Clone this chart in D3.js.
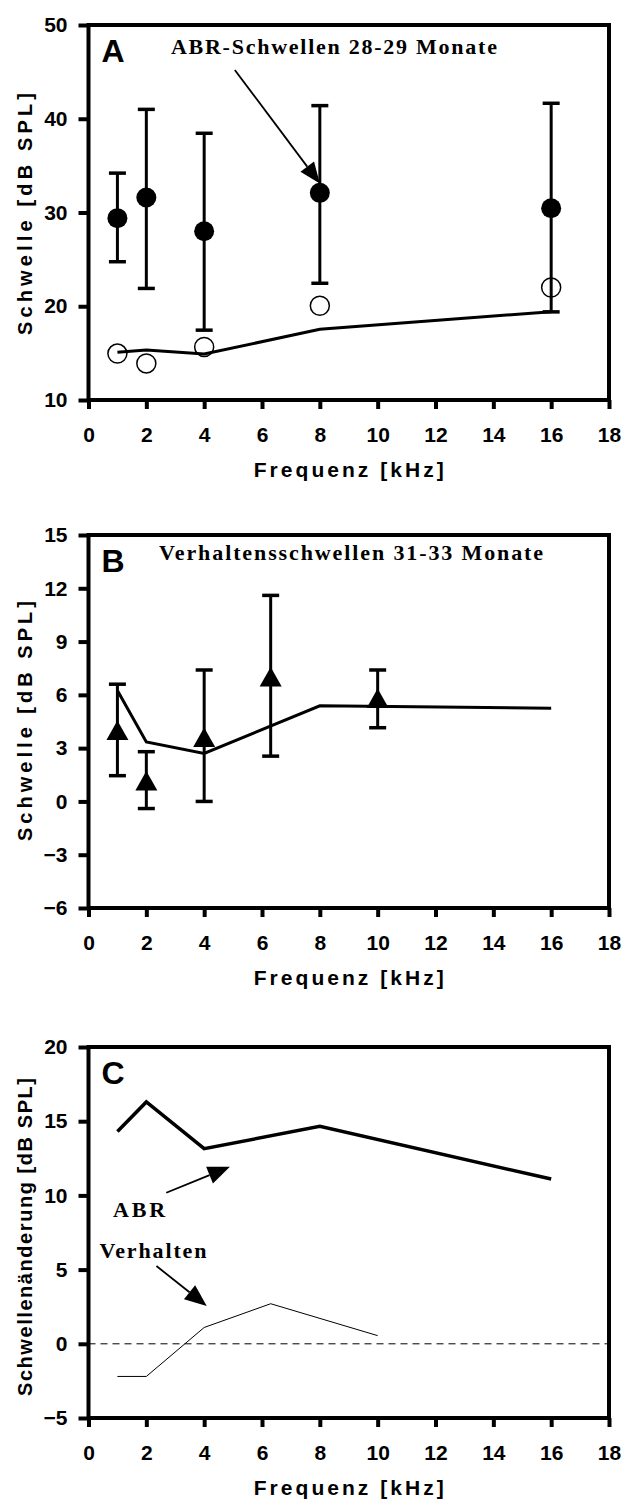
<!DOCTYPE html>
<html><head><meta charset="utf-8">
<script src="https://cdn.jsdelivr.net/npm/d3@7"></script>
<style>body{margin:0;background:#fff}</style>
</head><body><div id="chart"></div>
<script>
// ---------- data ----------
const freqTicks = [0,2,4,6,8,10,12,14,16,18];
// Panel A: ABR thresholds 28-29 months
const abrFreq = [1,2,4,8,16];
const abrOld = [29.4,31.6,28.0,32.1,30.45];
const abrOldUpper = [34.2,41.0,38.45,41.4,41.65];
const abrOldLower = [24.75,21.9,17.45,22.45,19.4];
const abrYoungCircles = [14.95,13.9,15.65,20.05,22.0];
const abrYoungLine = [15.1,15.33,14.9,17.54,19.42];
const aTicks = [10,20,30,40,50];
// Panel B: behavioural thresholds 31-33 months
const behFreq = [1,2,4,6.3,10];
const behOld = [4.0,1.15,3.6,7.0,5.8];
const behUpper = [6.6,2.8,7.4,11.6,7.4];
const behLower = [1.45,-0.4,0.0,2.55,4.15];
const behLineFreq = [1,2,4,8,16];
const behLine = [6.25,3.35,2.7,5.38,5.25];
const bTicks = [-6,-3,0,3,6,9,12,15];
// Panel C: threshold change
const abrChange = [14.3,16.3,13.15,14.65,11.1];
const behChange = [-2.2,-2.2,1.1,2.7,0.55];
const cTicks = [-5,0,5,10,15,20];

const W = 624, H = 1501;
const svg = d3.select('#chart').append('svg').attr('width',W).attr('height',H)
  .style('font-family','"Liberation Sans", Arial, sans-serif');

const left = 88.5, right = 609;
function panel(top, bottom, dom, ticks, yTitle, yLen, yCenter, letter){
  const x = d3.scaleLinear().domain([0,18]).range([left,right]);
  const y = d3.scaleLinear().domain(dom).range([bottom,top]);
  const g = svg.append('g');
  const ax = g.append('g').attr('transform',`translate(0,${bottom})`)
    .call(d3.axisBottom(x).tickValues(freqTicks).tickSize(9).tickSizeOuter(0).tickPadding(18));
  const ay = g.append('g').attr('transform',`translate(${left},0)`)
    .call(d3.axisLeft(y).tickValues(ticks).tickSize(10).tickSizeOuter(0).tickPadding(11));
  [ax,ay].forEach(a=>{
    a.select('.domain').remove();
    a.selectAll('line').attr('stroke','#000').attr('stroke-width',4);
    a.selectAll('text').attr('fill','#000').attr('font-size',21).attr('font-weight','bold');
  });
  g.append('rect').attr('x',left).attr('y',top).attr('width',right-left).attr('height',bottom-top)
    .attr('fill','none').attr('stroke','#000').attr('stroke-width',4);
  g.append('text').attr('x',(left+right)/2).attr('y',bottom+77).attr('text-anchor','middle')
    .attr('font-size',21).attr('font-weight','bold').attr('textLength',190).attr('lengthAdjust','spacing')
    .text('Frequenz [kHz]');
  g.append('text').attr('transform',`translate(25,${yCenter}) rotate(-90)`).attr('text-anchor','middle')
    .attr('dominant-baseline','central').attr('font-size',20).attr('font-weight','bold')
    .attr('textLength',yLen).attr('lengthAdjust','spacing').text(yTitle);
  g.append('text').attr('x',left+13).attr('y',top+37).attr('font-size',32).attr('font-weight','bold').text(letter);
  return {x,y,g};
}
function arrow(g, x1,y1,x2,y2, hl, hw){
  const dx=x2-x1, dy=y2-y1, L=Math.hypot(dx,dy), ux=dx/L, uy=dy/L;
  const bx=x2-ux*hl, by=y2-uy*hl;
  g.append('line').attr('x1',x1).attr('y1',y1).attr('x2',bx).attr('y2',by).attr('stroke','#000').attr('stroke-width',1.8);
  g.append('path').attr('d',`M${x2},${y2}L${bx-uy*hw},${by+ux*hw}L${bx+uy*hw},${by-ux*hw}Z`).attr('fill','#000');
}
const serif = '"Liberation Serif", "Times New Roman", serif';

// ---------- Panel A ----------
{
  const {x,y,g} = panel(25,400,[10,50],aTicks,'Schwelle [dB SPL]',242,214,'A');
  g.selectAll('.oc').data(abrFreq).join('circle').attr('cx',d=>x(d)).attr('cy',(d,i)=>y(abrYoungCircles[i]))
    .attr('r',9.5).attr('fill','#fff').attr('stroke','#000').attr('stroke-width',1.5);
  g.append('path').datum(abrFreq).attr('fill','none').attr('stroke','#000').attr('stroke-width',3)
    .attr('d',d3.line().x(d=>x(d)).y((d,i)=>y(abrYoungLine[i])));
  abrFreq.forEach((f,i)=>{
    g.append('line').attr('x1',x(f)).attr('x2',x(f)).attr('y1',y(abrOldLower[i])).attr('y2',y(abrOldUpper[i])).attr('stroke','#000').attr('stroke-width',3);
    [abrOldLower[i],abrOldUpper[i]].forEach(v=>g.append('line').attr('x1',x(f)-8.5).attr('x2',x(f)+8.5).attr('y1',y(v)).attr('y2',y(v)).attr('stroke','#000').attr('stroke-width',3.5));
  });
  g.selectAll('.fc').data(abrFreq).join('circle').attr('cx',d=>x(d)).attr('cy',(d,i)=>y(abrOld[i])).attr('r',10).attr('fill','#000');
  g.append('text').attr('x',x(2.85)).attr('y',y(46.95)).attr('font-family',serif).attr('font-weight','bold')
    .attr('font-size',22).attr('textLength',326).attr('lengthAdjust','spacing').text('ABR-Schwellen 28-29 Monate');
  arrow(g, x(5.06), y(45.2), x(8), y(33.1), 21, 8.5);
}
// ---------- Panel B ----------
{
  const {x,y,g} = panel(535,908,[-6,15],bTicks,'Schwelle [dB SPL]',240,721,'B');
  g.append('path').datum(behLineFreq).attr('fill','none').attr('stroke','#000').attr('stroke-width',3)
    .attr('d',d3.line().x(d=>x(d)).y((d,i)=>y(behLine[i])));
  behFreq.forEach((f,i)=>{
    g.append('line').attr('x1',x(f)).attr('x2',x(f)).attr('y1',y(behLower[i])).attr('y2',y(behUpper[i])).attr('stroke','#000').attr('stroke-width',3);
    [behLower[i],behUpper[i]].forEach(v=>g.append('line').attr('x1',x(f)-8.5).attr('x2',x(f)+8.5).attr('y1',y(v)).attr('y2',y(v)).attr('stroke','#000').attr('stroke-width',3.5));
  });
  g.selectAll('.tri').data(behFreq).join('path')
    .attr('d',(d,i)=>{const cx=x(d), cy=y(behOld[i]); return `M${cx},${cy-10}L${cx+11},${cy+9.5}L${cx-11},${cy+9.5}Z`;})
    .attr('fill','#000');
  g.append('text').attr('x',x(2.44)).attr('y',y(13.6)).attr('font-family',serif).attr('font-weight','bold')
    .attr('font-size',22).attr('textLength',384).attr('lengthAdjust','spacing').text('Verhaltensschwellen 31-33 Monate');
}
// ---------- Panel C ----------
{
  const {x,y,g} = panel(1047,1418,[-5,20],cTicks,'Schwellenänderung [dB SPL]',318,1237,'C');
  g.append('line').attr('x1',x(0)).attr('x2',x(18)).attr('y1',y(0)).attr('y2',y(0))
    .attr('stroke','#000').attr('stroke-width',1).attr('stroke-dasharray','7,5');
  g.append('path').datum(abrFreq).attr('fill','none').attr('stroke','#000').attr('stroke-width',3.5)
    .attr('d',d3.line().x(d=>x(d)).y((d,i)=>y(abrChange[i])));
  g.append('path').datum(behFreq).attr('fill','none').attr('stroke','#000').attr('stroke-width',1)
    .attr('d',d3.line().x(d=>x(d)).y((d,i)=>y(behChange[i])));
  g.append('text').attr('x',x(0.85)).attr('y',y(8.56)).attr('font-family',serif).attr('font-weight','bold')
    .attr('font-size',22).attr('textLength',52).attr('lengthAdjust','spacing').text('ABR');
  g.append('text').attr('x',x(0.38)).attr('y',y(5.78)).attr('font-family',serif).attr('font-weight','bold')
    .attr('font-size',22).attr('textLength',107).attr('lengthAdjust','spacing').text('Verhalten');
  arrow(g, x(2.69), y(10.18), x(4.89), y(11.93), 22, 9);
  arrow(g, x(2.35), y(5.24), x(4.09), y(2.55), 22, 9);
}
</script></body></html>
